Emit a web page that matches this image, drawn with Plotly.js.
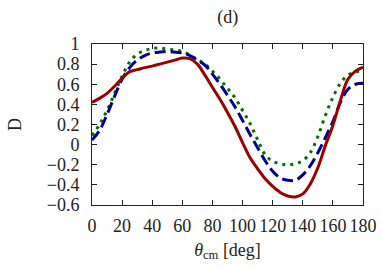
<!DOCTYPE html>
<html>
<head>
<meta charset="utf-8">
<script src="https://cdn.plot.ly/plotly-3.0.1.min.js"></script>
<style>html,body{margin:0;padding:0;background:#fff;}#chart{width:382px;height:269px;}</style>
</head>
<body>
<div id="chart"></div>
<script>
const theta = [0,5,10,15,20,25,30,35,40,45,50,55,60,65,70,75,80,85,90,95,100,105,110,115,120,125,130,135,140,145,150,155,160,165,170,175,180];
const redSolid = [0.42,0.46,0.51,0.58,0.66,0.725,0.745,0.765,0.78,0.80,0.82,0.84,0.86,0.855,0.80,0.69,0.57,0.45,0.32,0.18,0.02,-0.13,-0.24,-0.34,-0.415,-0.475,-0.51,-0.52,-0.49,-0.39,-0.23,-0.01,0.19,0.44,0.65,0.73,0.77];
const blueDashed = [0.045,0.14,0.30,0.48,0.65,0.765,0.84,0.885,0.91,0.92,0.925,0.92,0.91,0.885,0.84,0.79,0.70,0.60,0.49,0.375,0.24,0.10,-0.03,-0.16,-0.265,-0.33,-0.355,-0.355,-0.30,-0.21,-0.08,0.07,0.23,0.42,0.55,0.60,0.61];
const greenDotted = [0.09,0.20,0.34,0.51,0.68,0.82,0.90,0.935,0.955,0.96,0.95,0.94,0.925,0.89,0.845,0.80,0.73,0.65,0.56,0.465,0.34,0.21,0.05,-0.10,-0.165,-0.19,-0.20,-0.19,-0.16,-0.08,0.08,0.29,0.47,0.61,0.69,0.72,0.74];
const xTicks = [0,20,40,60,80,100,120,140,160,180];
const yTicks = [-0.6,-0.4,-0.2,0,0.2,0.4,0.6,0.8,1];
const yTickText = ['\u22120.6','\u22120.4','\u22120.2','0','0.2','0.4','0.6','0.8','1'];

const font = {family: 'Liberation Serif, Times New Roman, serif', size: 18, color: '#222'};

const traces = [
  {x: theta, y: greenDotted, mode: 'lines', line: {color: 'rgb(0,110,0)', width: 3, dash: '3px,5px', shape: 'spline'}},
  {x: theta, y: blueDashed, mode: 'lines', line: {color: 'rgb(0,0,150)', width: 3, dash: '11px,5px', shape: 'spline'}},
  {x: theta, y: redSolid, mode: 'lines', line: {color: 'rgb(155,0,0)', width: 3, shape: 'spline'}}
];

const axisCommon = {
  showgrid: false, zeroline: false, showline: true, mirror: 'ticks',
  linecolor: '#222', linewidth: 1, ticks: 'inside', ticklen: 5, tickcolor: '#222', tickwidth: 1,
  tickfont: font
};

const layout = {
  width: 382, height: 269,
  margin: {l: 92, r: 19, t: 44, b: 64},
  paper_bgcolor: '#fff', plot_bgcolor: '#fff',
  showlegend: false,
  font: font,
  title: {text: '(d)', font: font, x: 0.596, xref: 'container', xanchor: 'center', y: 1 - 17/269, yref: 'container', yanchor: 'middle'},
  xaxis: Object.assign({}, axisCommon, {
    range: [0, 180], tickvals: xTicks, ticktext: xTicks.map(String), ticklabelstandoff: 4,
    title: {text: '<i>θ</i><sub>cm</sub> [deg]', font: font, standoff: 8}
  }),
  yaxis: Object.assign({}, axisCommon, {
    range: [-0.6, 1], tickvals: yTicks, ticktext: yTickText, ticklabelstandoff: 8,
    title: {text: 'D', font: font, standoff: 20}
  })
};

Plotly.newPlot('chart', traces, layout, {displayModeBar: false, staticPlot: true});
</script>
</body>
</html>
